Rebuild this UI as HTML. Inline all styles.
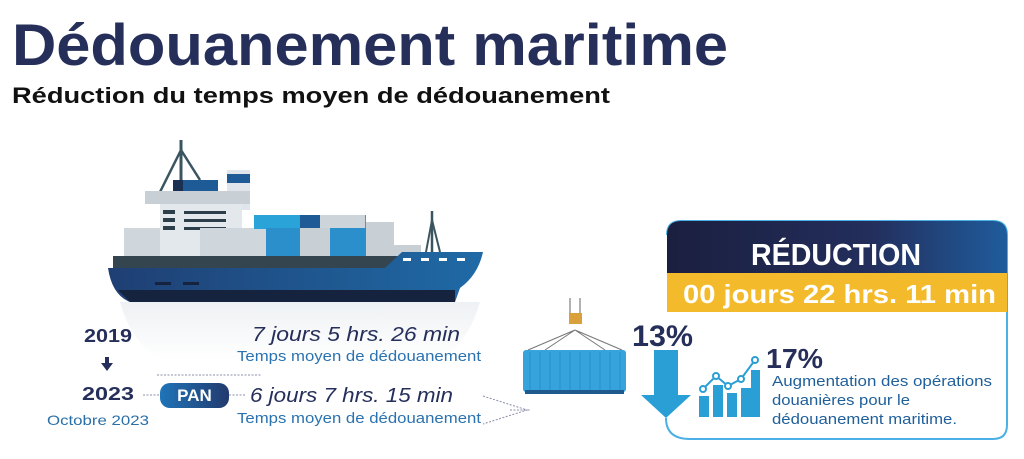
<!DOCTYPE html>
<html><head><meta charset="utf-8"><style>
html,body{margin:0;padding:0;background:#fff;width:1024px;height:459px;overflow:hidden}
svg{display:block}
text{font-family:"Liberation Sans",sans-serif}
</style></head><body>
<svg width="1024" height="459" viewBox="0 0 1024 459" xmlns="http://www.w3.org/2000/svg">
<defs>
<linearGradient id="hull" x1="0" x2="1" y1="0" y2="0"><stop offset="0" stop-color="#1f3f73"/><stop offset="1" stop-color="#1f6aa6"/></linearGradient>
<linearGradient id="hdr" x1="0" x2="1"><stop offset="0" stop-color="#1b1f3f"/><stop offset="0.6" stop-color="#232e5c"/><stop offset="1" stop-color="#1f5c9c"/></linearGradient>
<linearGradient id="pan" x1="0" x2="1"><stop offset="0" stop-color="#1f74b8"/><stop offset="1" stop-color="#223a6e"/></linearGradient>
<linearGradient id="refl" x1="0" x2="0" y1="0" y2="1"><stop offset="0" stop-color="#eef1f4"/><stop offset="1" stop-color="#ffffff"/></linearGradient>
</defs>
<text x="12" y="65" font-size="58" font-weight="bold" fill="#252f5a" textLength="716" lengthAdjust="spacingAndGlyphs">Dédouanement maritime</text>
<text x="12" y="103" font-size="22" font-weight="bold" fill="#111" textLength="598" lengthAdjust="spacingAndGlyphs">Réduction du temps moyen de dédouanement</text>

<path d="M120 302 L480 302 Q470 340 440 360 L160 360 Q130 340 120 302Z" fill="url(#refl)"/>
<g>
<line x1="181" y1="140" x2="181" y2="192" stroke="#3b5560" stroke-width="3"/>
<line x1="181" y1="150" x2="160" y2="192" stroke="#3b5560" stroke-width="2.5"/>
<line x1="181" y1="150" x2="200" y2="180" stroke="#3b5560" stroke-width="2.5"/>
<rect x="173" y="180" width="45" height="11" fill="#1e5a95"/>
<rect x="173" y="180" width="10" height="11" fill="#1b2f50"/>
<rect x="227" y="170" width="23" height="40" fill="#dfe5ea"/>
<rect x="227" y="174" width="23" height="9" fill="#1e5a95"/>
<rect x="145" y="191" width="105" height="13" fill="#c8d0d6"/>
<rect x="160" y="204" width="82" height="52" fill="#e3e8ec"/>
<rect x="163" y="210" width="12" height="4" fill="#2b3e4a"/><rect x="163" y="218" width="12" height="4" fill="#2b3e4a"/><rect x="163" y="226" width="12" height="4" fill="#2b3e4a"/>
<rect x="184" y="211" width="42" height="3" fill="#2b3e4a"/><rect x="184" y="219" width="42" height="3" fill="#2b3e4a"/><rect x="184" y="227" width="42" height="3" fill="#2b3e4a"/>
<rect x="124" y="228" width="36" height="30" fill="#cfd6dc"/>
<rect x="200" y="228" width="66" height="30" fill="#cfd6dc"/>
<rect x="254" y="215" width="112" height="14" fill="#2aa3d8"/>
<rect x="300" y="215" width="20" height="14" fill="#1e5a95"/>
<rect x="320" y="215" width="45" height="14" fill="#cdd4da"/>
<rect x="266" y="228" width="100" height="28" fill="#2b8fcc"/>
<rect x="300" y="228" width="30" height="28" fill="#c8d0d6"/>
<rect x="366" y="222" width="28" height="35" fill="#c8d0d6"/>
<rect x="379" y="245" width="42" height="12" fill="#c8d0d6"/>
<line x1="432" y1="211" x2="432" y2="252" stroke="#3b5560" stroke-width="2.5"/>
<line x1="432" y1="220" x2="426" y2="252" stroke="#3b5560" stroke-width="2"/>
<line x1="432" y1="220" x2="440" y2="252" stroke="#3b5560" stroke-width="2"/>
<rect x="113" y="256" width="290" height="12" fill="#34454f"/>
<path d="M108 268 L385 268 L402 252 L483 252 Q478 275 460 288 L455 302 L130 302 Q112 295 108 268Z" fill="url(#hull)"/>
<path d="M118 290 L455 290 L455 302 L130 302Z" fill="#15233e"/>
<rect x="403" y="258" width="8" height="3" fill="#fff"/><rect x="421" y="258" width="8" height="3" fill="#fff"/><rect x="439" y="258" width="8" height="3" fill="#fff"/><rect x="457" y="258" width="8" height="3" fill="#fff"/>
<rect x="155" y="282" width="16" height="3" fill="#15233e"/><rect x="183" y="282" width="16" height="3" fill="#15233e"/>
</g>

<text x="84" y="342" font-size="18" font-weight="bold" fill="#252f5a" textLength="48" lengthAdjust="spacingAndGlyphs">2019</text>
<rect x="105" y="357" width="4" height="7" fill="#252f5a"/><path d="M101 363 L113 363 L107 371Z" fill="#252f5a"/>
<text x="82" y="400" font-size="18" font-weight="bold" fill="#252f5a" textLength="52" lengthAdjust="spacingAndGlyphs">2023</text>
<text x="47" y="425" font-size="14" fill="#2a6fa8" textLength="102" lengthAdjust="spacingAndGlyphs">Octobre 2023</text>
<line x1="143" y1="395" x2="160" y2="395" stroke="#8a8fa8" stroke-width="1" stroke-dasharray="2,1.5"/>
<line x1="229" y1="395" x2="246" y2="395" stroke="#8a8fa8" stroke-width="1" stroke-dasharray="2,1.5"/>
<line x1="157" y1="375" x2="262" y2="375" stroke="#8a8fa8" stroke-width="1" stroke-dasharray="2,1.5"/>
<rect x="160" y="383" width="69" height="25" rx="10" fill="url(#pan)"/>
<text x="194.5" y="401" font-size="17" font-weight="bold" fill="#fff" text-anchor="middle">PAN</text>
<text x="252" y="341" font-size="20" font-style="italic" fill="#252f5a" textLength="208" lengthAdjust="spacingAndGlyphs">7 jours  5 hrs.  26 min</text>
<text x="237" y="361" font-size="15" fill="#2a72b0" textLength="244" lengthAdjust="spacingAndGlyphs">Temps moyen de dédouanement</text>
<text x="250" y="402" font-size="20" font-style="italic" fill="#252f5a" textLength="203" lengthAdjust="spacingAndGlyphs">6 jours  7 hrs.  15 min</text>
<text x="237" y="423" font-size="15" fill="#2a72b0" textLength="244" lengthAdjust="spacingAndGlyphs">Temps moyen de dédouanement</text>
<path d="M483 396 L527 410 L483 424" fill="none" stroke="#8a8fa8" stroke-width="1" stroke-dasharray="2,1.5"/>
<line x1="510" y1="410" x2="530" y2="410" stroke="#8a8fa8" stroke-width="1" stroke-dasharray="2,1.5"/>

<line x1="570" y1="298" x2="570" y2="315" stroke="#999" stroke-width="1.5"/><line x1="580" y1="298" x2="580" y2="315" stroke="#999" stroke-width="1.5"/>
<rect x="569" y="313" width="13" height="11" fill="#d9a03b"/>
<path d="M575 330 L528 350 M575 330 L545 350 M575 330 L605 350 M575 330 L622 350" stroke="#777" stroke-width="1"/>
<rect x="523" y="350" width="103" height="42" rx="3" fill="#36a3dc"/>
<g stroke="#2a8fc6" stroke-width="1">
<line x1="530" y1="352" x2="530" y2="390"/><line x1="540" y1="352" x2="540" y2="390"/><line x1="550" y1="352" x2="550" y2="390"/><line x1="560" y1="352" x2="560" y2="390"/><line x1="570" y1="352" x2="570" y2="390"/><line x1="580" y1="352" x2="580" y2="390"/><line x1="590" y1="352" x2="590" y2="390"/><line x1="600" y1="352" x2="600" y2="390"/><line x1="610" y1="352" x2="610" y2="390"/><line x1="620" y1="352" x2="620" y2="390"/>
</g>
<rect x="525" y="390" width="99" height="4" fill="#1f5a8e"/>

<path d="M667 235 Q667 221 681 221 L993 221 Q1007 221 1007 235 L1007 425 Q1007 439 993 439 L690 439 Q666 439 666 418" fill="#fff" stroke="#4ab0e6" stroke-width="2"/>
<path d="M667 235 Q667 221 681 221 L993 221 Q1007 221 1007 235 L1007 273 L667 273Z" fill="url(#hdr)"/>
<rect x="667" y="273" width="340" height="39" fill="#f3bb2b"/>
<text x="836" y="265" font-size="31" font-weight="bold" fill="#fff" text-anchor="middle" textLength="170" lengthAdjust="spacingAndGlyphs">RÉDUCTION</text>
<text x="683" y="303" font-size="26" font-weight="bold" fill="#fff" textLength="313" lengthAdjust="spacingAndGlyphs">00 jours  22 hrs. 11 min</text>

<text x="632" y="346" font-size="30" font-weight="bold" fill="#252f5a" textLength="61" lengthAdjust="spacingAndGlyphs">13%</text>
<path d="M654 350 L678 350 L678 395 L691 395 L666 418 L641 395 L654 395Z" fill="#2a9fd6"/>

<g fill="#2a9fd6">
<rect x="699" y="396" width="10" height="21"/><rect x="713" y="385" width="10" height="32"/><rect x="727" y="393" width="10" height="24"/><rect x="741" y="388" width="10" height="29"/><rect x="751" y="370" width="9" height="47"/>
</g>
<polyline points="703,389 716,376 728,386 741,379 755,360" fill="none" stroke="#2a9fd6" stroke-width="2"/>
<g fill="#fff" stroke="#2a9fd6" stroke-width="2"><circle cx="703" cy="389" r="3"/><circle cx="716" cy="376" r="3"/><circle cx="728" cy="386" r="3"/><circle cx="741" cy="379" r="3"/><circle cx="755" cy="360" r="3"/></g>
<text x="766" y="368" font-size="28" font-weight="bold" fill="#252f5a" textLength="57" lengthAdjust="spacingAndGlyphs">17%</text>
<text x="772" y="386" font-size="15" fill="#1f5f9a" textLength="220" lengthAdjust="spacingAndGlyphs">Augmentation des opérations</text>
<text x="772" y="405" font-size="15" fill="#1f5f9a" textLength="138" lengthAdjust="spacingAndGlyphs">douanières pour le</text>
<text x="772" y="424" font-size="15" fill="#1f5f9a" textLength="185" lengthAdjust="spacingAndGlyphs">dédouanement maritime.</text>
</svg>
</body></html>
